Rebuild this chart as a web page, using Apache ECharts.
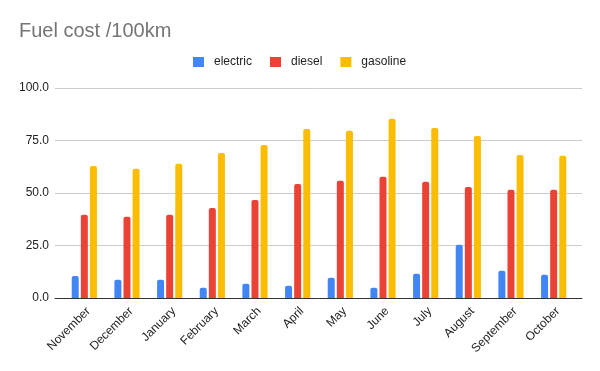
<!DOCTYPE html>
<html><head><meta charset="utf-8">
<script src="https://cdn.jsdelivr.net/npm/echarts@6/dist/echarts.min.js"></script>
<style>html,body{margin:0;padding:0;background:#fff}#c{width:600px;height:371px}</style>
</head><body><div id="c"></div>
<script>
const months = ["November","December","January","February","March","April","May","June","July","August","September","October"];
const electric = [10.5, 8.7, 8.7, 4.9, 6.8, 5.8, 9.7, 4.9, 11.6, 25.3, 13.0, 11.1];
const diesel = [39.6, 38.7, 39.6, 42.9, 46.7, 54.3, 55.8, 57.7, 55.3, 52.9, 51.5, 51.5];
const gasoline = [62.9, 61.5, 63.9, 69.1, 72.9, 80.5, 79.6, 85.3, 81.0, 77.2, 68.1, 67.7];
const yTicks = [0, 25, 50, 75, 100];
const seriesNames = ["electric","diesel","gasoline"];
const colors = ["#4285F4","#EA4335","#FBBC04"];
const font = "Liberation Sans, Arial, sans-serif";
const chart = echarts.init(document.getElementById('c'));
const mk = (name, data, color) => ({
  name, type: 'bar', data, barWidth: 7, barGap: '30%', xAxisIndex: 0, yAxisIndex: 0,
  itemStyle: {color, borderRadius: [2,2,0,0]}
});
const yMin = yTicks[0], yMax = yTicks[yTicks.length-1];
chart.setOption({
  animation: false,
  textStyle: {fontFamily: font},
  title: {text: "Fuel cost /100km", left: 14, top: 16,
    textStyle: {fontFamily: font, fontSize: 20, fontWeight: 'normal', color: '#757575'}},
  legend: {top: 51, left: 188, itemWidth: 11, itemHeight: 10, itemGap: 18,
    icon: 'rect', textStyle: {fontFamily: font, fontSize: 12, color: '#222', padding: [0,0,0,5]},
    data: seriesNames},
  grid: [
    {left: 63, right: 25, top: 88, bottom: 73},
    {left: 55, right: 18, top: 88, bottom: 73}
  ],
  xAxis: [
    {type: 'category', data: months, gridIndex: 0,
      axisLine: {show: false}, axisTick: {show: false},
      axisLabel: {rotate: 45, fontSize: 12, color: '#222', fontFamily: font, interval: 0, margin: 7,
        verticalAlign: 'top'}},
    {type: 'category', data: months, gridIndex: 1,
      axisLine: {lineStyle: {color: '#333', width: 1}}, axisTick: {show: false},
      axisLabel: {show: false}}
  ],
  yAxis: [
    {type: 'value', gridIndex: 0, min: yMin, max: yMax, interval: 25,
      axisLine: {show: false}, axisTick: {show: false}, splitLine: {show: false}, axisLabel: {show: false}},
    {type: 'value', gridIndex: 1, min: yMin, max: yMax, interval: 25,
      axisLine: {show: false}, axisTick: {show: false},
      splitLine: {lineStyle: {color: '#ccc'}},
      axisLabel: {fontSize: 12, color: '#222', fontFamily: font, margin: 6,
        formatter: v => v.toFixed(1)}}
  ],
  series: [mk(seriesNames[0], electric, colors[0]), mk(seriesNames[1], diesel, colors[1]), mk(seriesNames[2], gasoline, colors[2])]
});
</script></body></html>
